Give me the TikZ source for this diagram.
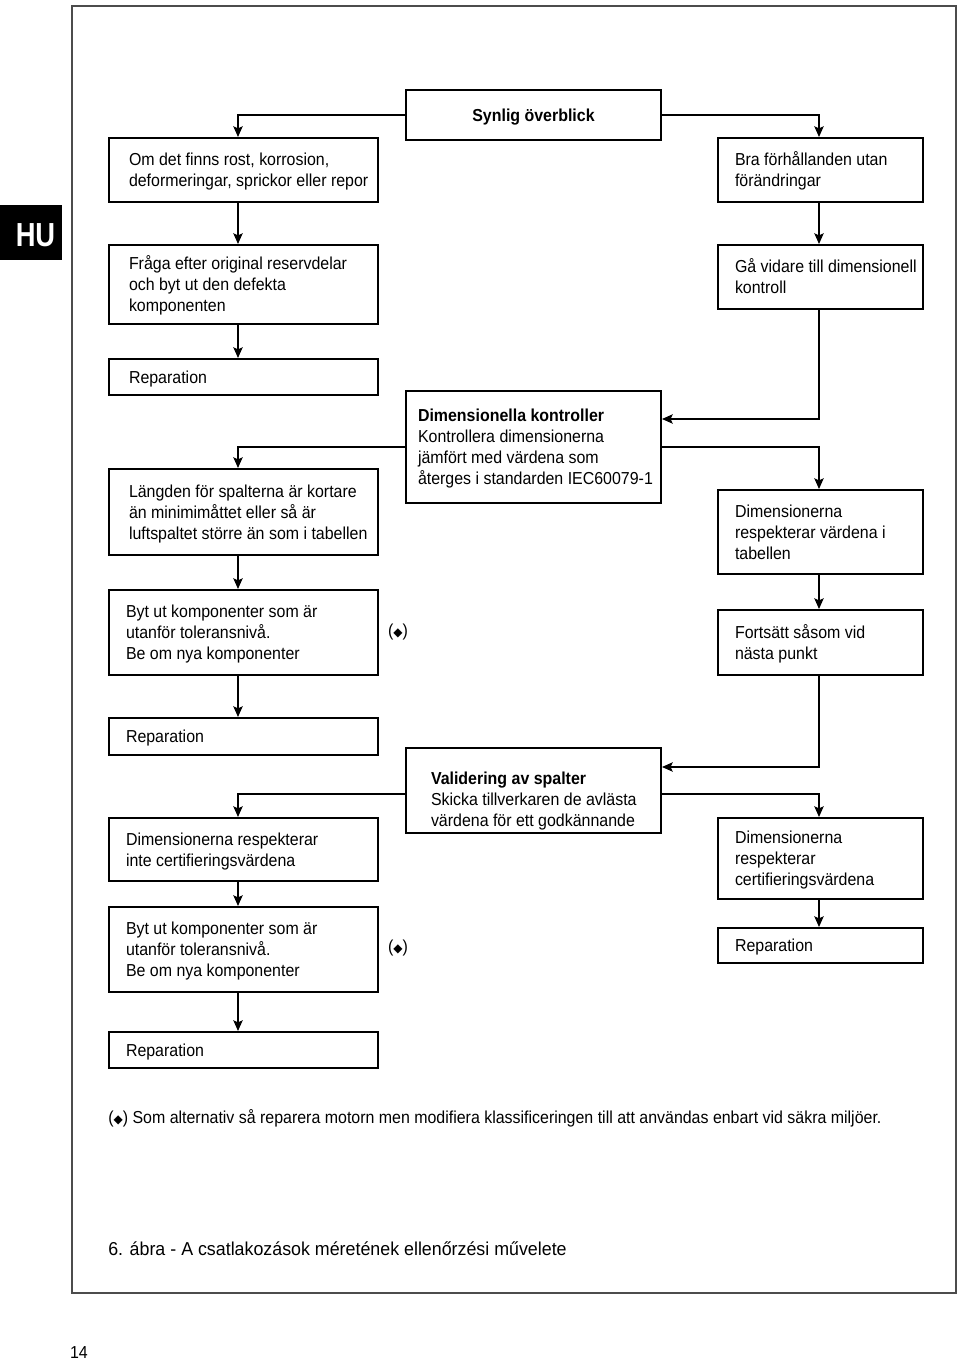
\documentclass[tikz,border=0pt]{standalone}
\usepackage{fontspec}
\setmainfont[FakeStretch=0.92]{Liberation Sans}
\newfontfamily\capfont[FakeStretch=0.955]{Liberation Sans}
\newfontfamily\hufont[FakeStretch=0.82]{Liberation Sans}
\newfontfamily\dejavu{DejaVu Sans}
\usetikzlibrary{arrows.meta}
\newcommand\bt[2]{\raisebox{-1.5pt}[\height][\depth]{\makebox[#1][l]{\begin{tabular}{@{}l@{}}#2\end{tabular}}}}
\newcommand\dia{({\dejavu\fontsize{9pt}{9pt}\selectfont ◆})}
\begin{document}
\begin{tikzpicture}[x=0.75pt,y=-0.75pt,
  box/.style={draw, line width=1.5pt, rectangle, inner xsep=0pt, inner ysep=0pt,
    font=\fontsize{13pt}{15.75pt}\selectfont},
  lbox/.style={box, minimum width=201.75pt},
  mbox/.style={box, minimum width=191.25pt},
  rbox/.style={box, minimum width=153.75pt},
  arr/.style={line width=1.1pt, -{Stealth[length=8pt,width=7pt,inset=1.5pt]}},
  txt/.style={inner sep=0pt, font=\fontsize{13pt}{15.75pt}\selectfont}]
\useasboundingbox (0,0) rectangle (960,1363);
% frame
\draw[gray!60!black, line width=1.2pt] (72,6) rectangle (956,1293);
% HU tab
\fill[black] (0,205) rectangle (62,260);
\node[inner sep=0pt, text=white, font=\hufont\fontsize{25pt}{25pt}\selectfont\bfseries] (hu) at (35.5,235) {HU};
% helper coordinates
\coordinate (cl) at (238,0);
\coordinate (cr) at (819,0);
\coordinate (yA) at (0,419);
\coordinate (yC) at (0,767);
\coordinate (yD) at (0,794);
% boxes
\node[mbox, minimum height=37.5pt] (syn) at (533.5,115) {\raisebox{-1.5pt}[\height][\depth]{\textbf{Synlig överblick}}};
\node[lbox, minimum height=48pt] (b2) at (243.5,170) {\bt{171.75pt}{Om det finns rost, korrosion,\\deformeringar, sprickor eller repor}};
\node[rbox, minimum height=48pt] (b3) at (820.5,170) {\bt{128.25pt}{Bra förhållanden utan\\förändringar}};
\node[lbox, minimum height=59.25pt] (b4) at (243.5,284.5) {\bt{171.75pt}{Fråga efter original reservdelar\\och byt ut den defekta\\komponenten}};
\node[rbox, minimum height=48pt] (b5) at (820.5,277) {\bt{128.25pt}{Gå vidare till dimensionell\\kontroll}};
\node[lbox, minimum height=27pt] (rep1) at (243.5,377) {\bt{171.75pt}{Reparation}};
\node[mbox, minimum height=84pt] (dim) at (533.5,447) {\bt{173.25pt}{\textbf{Dimensionella kontroller}\\Kontrollera dimensionerna\\jämfört med värdena som\\återges i standarden IEC60079-1}};
\node[lbox, minimum height=64.5pt] (len) at (243.5,512) {\bt{171.75pt}{Längden för spalterna är kortare\\än minimimåttet eller så är\\luftspaltet större än som i tabellen}};
\node[rbox, minimum height=63pt] (d9) at (820.5,532) {\bt{128.25pt}{Dimensionerna\\respekterar värdena i\\tabellen}};
\node[lbox, minimum height=63.75pt] (byt1) at (243.5,632.5) {\bt{176.25pt}{Byt ut komponenter som är\\utanför toleransnivå.\\Be om nya komponenter}};
\node[txt] (dia1) at (398,632) {\dia};
\node[rbox, minimum height=48.75pt] (fort) at (820.5,642.5) {\bt{128.25pt}{Fortsätt såsom vid\\nästa punkt}};
\node[lbox, minimum height=27.75pt] (rep2) at (243.5,736.5) {\bt{176.25pt}{Reparation}};
\node[mbox, minimum height=63.75pt] (val) at (533.5,790.5) {\raisebox{-6.5pt}[\height][\depth]{\bt{153.75pt}{\textbf{Validering av spalter}\\Skicka tillverkaren de avlästa\\värdena för ett godkännande}}};
\node[lbox, minimum height=47.25pt] (d15) at (243.5,849.5) {\bt{176.25pt}{Dimensionerna respekterar\\inte certifieringsvärdena}};
\node[rbox, minimum height=60.75pt] (d16) at (820.5,858.5) {\bt{128.25pt}{Dimensionerna\\respekterar\\certifieringsvärdena}};
\node[lbox, minimum height=63.75pt] (byt2) at (243.5,949.5) {\bt{176.25pt}{Byt ut komponenter som är\\utanför toleransnivå.\\Be om nya komponenter}};
\node[txt] (dia2) at (398,948) {\dia};
\node[rbox, minimum height=26.25pt] (repR) at (820.5,945.5) {\bt{128.25pt}{Reparation}};
\node[lbox, minimum height=27pt] (rep3) at (243.5,1050) {\bt{176.25pt}{Reparation}};
% connectors
\draw[arr] (syn.west) -| (b2.north -| cl);
\draw[arr] (syn.east) -| (b3.north -| cr);
\draw[arr] (b2.south -| cl) -- (b4.north -| cl);
\draw[arr] (b3.south -| cr) -- (b5.north -| cr);
\draw[arr] (b4.south -| cl) -- (rep1.north -| cl);
\draw[arr] (b5.south -| cr) |- (dim.east |- yA);
\draw[arr] (dim.east) -| (d9.north -| cr);
\draw[arr] (dim.west) -| (len.north -| cl);
\draw[arr] (len.south -| cl) -- (byt1.north -| cl);
\draw[arr] (d9.south -| cr) -- (fort.north -| cr);
\draw[arr] (byt1.south -| cl) -- (rep2.north -| cl);
\draw[arr] (fort.south -| cr) |- (val.east |- yC);
\draw[arr] (val.east |- yD) -| (d16.north -| cr);
\draw[arr] (val.west |- yD) -| (d15.north -| cl);
\draw[arr] (d15.south -| cl) -- (byt2.north -| cl);
\draw[arr] (d16.south -| cr) -- (repR.north -| cr);
\draw[arr] (byt2.south -| cl) -- (rep3.north -| cl);
% footnote, caption, page number
\node[txt, anchor=west] (foot) at (108,1118) {\dia\ Som alternativ så reparera motorn men modifiera klassificeringen till att användas enbart vid säkra miljöer.};
\node[inner sep=0pt, anchor=west, font=\capfont\fontsize{14pt}{16pt}\selectfont] (cap) at (108,1249) {6. ábra - A csatlakozások méretének ellenőrzési művelete};
\node[txt] (page) at (79,1353) {14};
\end{tikzpicture}
\end{document}
